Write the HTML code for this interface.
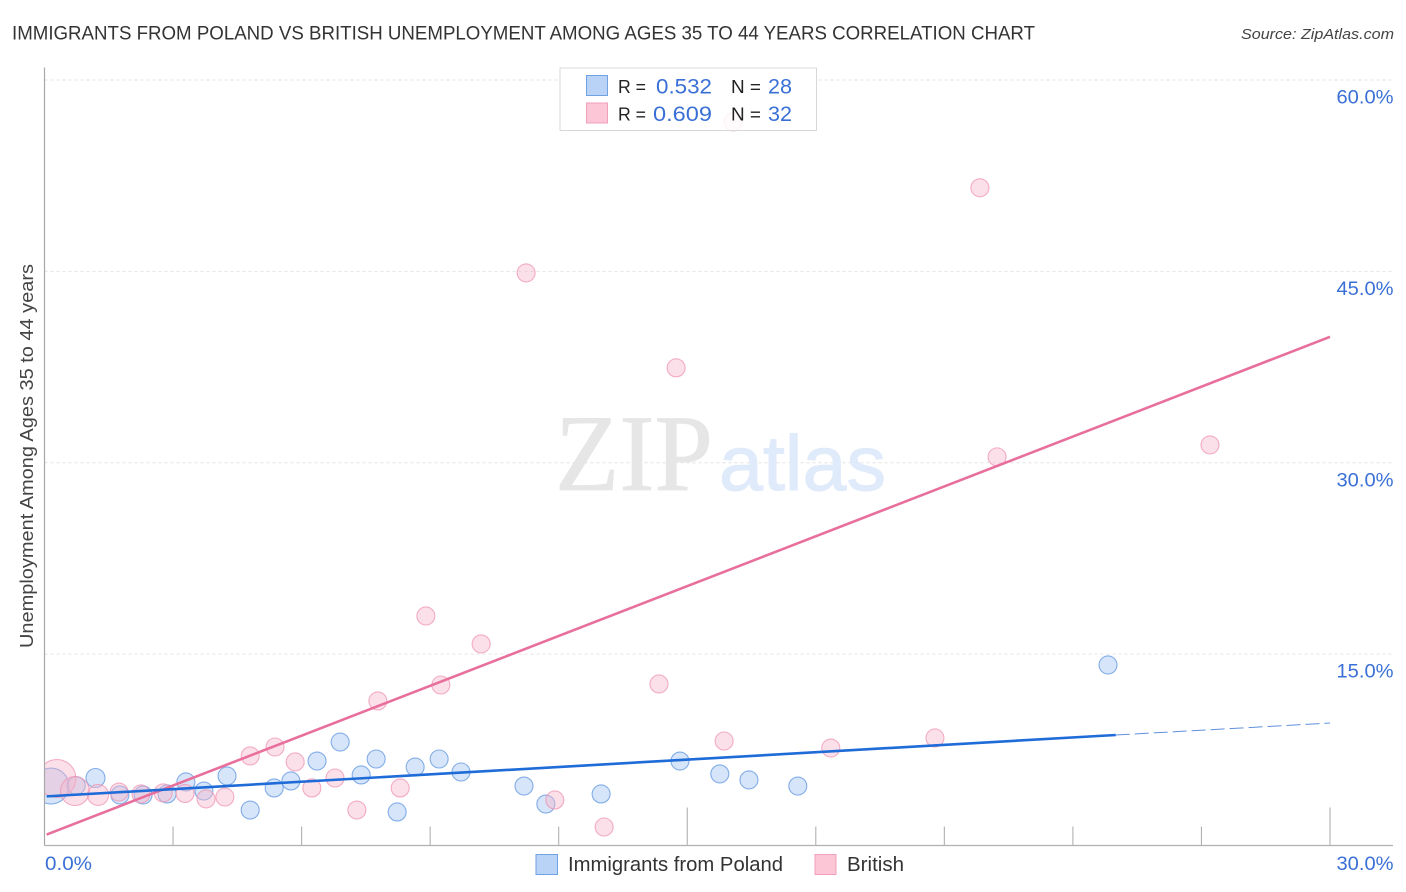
<!DOCTYPE html>
<html lang="en">
<head>
<meta charset="utf-8">
<title>Immigrants from Poland vs British Unemployment Correlation Chart</title>
<style>
html,body{margin:0;padding:0;background:#fff;width:1406px;height:892px;overflow:hidden}
svg{display:block}
text{font-family:"Liberation Sans",sans-serif}
</style>
</head>
<body>
<svg id="chart" xmlns="http://www.w3.org/2000/svg" width="1406" height="892" viewBox="0 0 1406 892">
  <text x="12" y="39.5" font-size="19.5" fill="#333" textLength="1023" lengthAdjust="spacingAndGlyphs">IMMIGRANTS FROM POLAND VS BRITISH UNEMPLOYMENT AMONG AGES 35 TO 44 YEARS CORRELATION CHART</text>
  <text x="1241" y="39" font-size="15" font-style="italic" fill="#444" textLength="153" lengthAdjust="spacingAndGlyphs">Source: ZipAtlas.com</text>
  <text transform="translate(33,648) rotate(-90)" font-size="18" fill="#444" textLength="384" lengthAdjust="spacingAndGlyphs">Unemployment Among Ages 35 to 44 years</text>

  <g id="grid"></g>

  <text x="555" y="490" font-size="109" fill="#e6e6e6" stroke="#e6e6e6" stroke-width="0.8" style="font-family:'Liberation Serif',serif" textLength="158" lengthAdjust="spacingAndGlyphs">ZIP</text>
  <text x="719" y="490" font-size="78" fill="#dfeafa" stroke="#dfeafa" stroke-width="1" textLength="167" lengthAdjust="spacingAndGlyphs">atlas</text>

  <g id="points"></g>
  <rect x="28" y="750" width="16.500" height="70" fill="#fff"/>
  <g id="axes"></g>
  <g id="trends"></g>
  <g id="labels"></g>

  <g>
    <rect x="560" y="68" width="256.500" height="62.500" fill="#fff" fill-opacity="0.85" stroke="#d8d8d8" stroke-width="1"/>
    <rect x="586.500" y="75.500" width="21" height="20" fill="#b9d3f7" stroke="#6fa1e4" stroke-width="1"/>
    <rect x="586.500" y="103" width="21" height="20" fill="#fcc6d6" stroke="#f0a0bb" stroke-width="1"/>
    <text x="618" y="93" font-size="18" fill="#222" textLength="28" lengthAdjust="spacingAndGlyphs">R =</text>
    <text x="656" y="93.500" font-size="21" fill="#3a70d6" textLength="56" lengthAdjust="spacingAndGlyphs">0.532</text>
    <text x="731" y="93" font-size="18" fill="#222" textLength="30" lengthAdjust="spacingAndGlyphs">N =</text>
    <text x="768" y="93.500" font-size="21" fill="#3a70d6" textLength="24" lengthAdjust="spacingAndGlyphs">28</text>
    <text x="618" y="120.500" font-size="18" fill="#222" textLength="28" lengthAdjust="spacingAndGlyphs">R =</text>
    <text x="653" y="121" font-size="21" fill="#3a70d6" textLength="59" lengthAdjust="spacingAndGlyphs">0.609</text>
    <text x="731" y="120.500" font-size="18" fill="#222" textLength="30" lengthAdjust="spacingAndGlyphs">N =</text>
    <text x="768" y="121" font-size="21" fill="#3a70d6" textLength="24" lengthAdjust="spacingAndGlyphs">32</text>
  </g>

  <g>
    <rect x="536" y="854.500" width="21.500" height="20" fill="#b9d3f7" stroke="#6fa1e4" stroke-width="1"/>
    <text x="568" y="871" font-size="20" fill="#333" textLength="215" lengthAdjust="spacingAndGlyphs">Immigrants from Poland</text>
    <rect x="815" y="854.500" width="21" height="20" fill="#fcc6d6" stroke="#f0a0bb" stroke-width="1"/>
    <text x="847" y="871" font-size="20" fill="#333" textLength="57" lengthAdjust="spacingAndGlyphs">British</text>
  </g>
</svg>
<script>
// Chart data
var yTickValues = [15, 30, 45, 60];
var yTickLabels = ["15.0%", "30.0%", "45.0%", "60.0%"];
var xTickValues = [3, 6, 9, 12, 15, 18, 21, 24, 27, 30];
var xMajorTicks = [15, 30];
var xEndLabels = ["0.0%", "30.0%"];

var polandX = [0.15,0.74,1.19,1.76,2.30,2.86,3.30,3.72,4.26,4.80,5.36,5.75,6.36,6.90,7.39,7.74,8.23,8.65,9.21,9.72,11.19,11.70,12.99,14.83,15.76,16.44,17.58,24.82];
var polandY = [4.66,4.69,5.29,3.96,3.96,4.04,4.98,4.27,5.45,2.78,4.51,5.06,6.62,8.11,5.53,6.78,2.63,6.15,6.78,5.76,4.66,3.25,4.04,6.62,5.61,5.14,4.66,14.15];
var polandWeight = [18,9,9.5,9,9,9,9,9,9,9,9,9,9,9,9,9,9,9,9,9,9,9,9,9,9,9,9,9];

var britishX = [0.29,0.71,1.25,1.74,2.25,2.77,3.28,3.77,4.21,4.80,5.38,5.85,6.24,6.78,7.29,7.78,8.30,8.90,9.25,10.19,11.24,11.91,13.06,14.34,14.74,15.86,16.07,18.35,20.78,21.83,22.23,27.20];
var britishY = [5.25,4.27,3.96,4.19,4.04,4.12,4.08,3.65,3.80,7.02,7.72,6.55,4.51,5.29,2.78,11.33,4.51,17.99,12.58,15.80,44.88,3.57,1.45,12.66,37.44,8.19,56.72,7.64,8.43,51.55,30.46,31.40];
var britishWeight = [19,14.5,10.5,9,9,9,9,9,9,9,9,9,9,9,9,9,9,9,9,9,9,9,9,9,9,9,9,9,9,9,9,9];

var polandTrendX = [0.05, 25.0, 30];
var polandTrendY = [3.85, 8.66, 9.6];
var britishTrendX = [0.05, 30];
var britishTrendY = [0.86, 39.87];

// Axis functions
var plotLeft = 44.5, plotRight = 1330, plotBottom = 845.5, plotTop = 80;
function sx(v) { return plotLeft + (plotRight - plotLeft) * v / 30; }
function sy(v) { return plotBottom - (plotBottom - plotTop) * v / 60; }

var NS = "http://www.w3.org/2000/svg";
function mk(tag, parent, props) {
  var el = document.createElementNS(NS, tag);
  for (var k in props) { el.setAttribute(k, props[k]); }
  parent.appendChild(el);
  return el;
}

var grid = document.getElementById("grid");
var axes = document.getElementById("axes");
var points = document.getElementById("points");
var trends = document.getElementById("trends");
var labels = document.getElementById("labels");

yTickValues.forEach(function (v, i) {
  var g = mk("line", grid, {x1: plotLeft, x2: 1393, y1: sy(v), y2: sy(v), stroke: "#e2e2e2", "stroke-width": 1, "stroke-dasharray": "3 3"});
  
  
  var t = mk("text", labels, {x: 1393.5, y: sy(v) + 23.5, "font-size": 19, fill: "#3a70d6", "text-anchor": "end", textLength: 57, lengthAdjust: "spacingAndGlyphs"});
  t.textContent = yTickLabels[i];
  
  
});

var yAxis = mk("line", axes, {x1: plotLeft, x2: plotLeft, y1: 67.5, y2: plotBottom, stroke: "#a8a8a8", "stroke-width": 1.2});


var xAxis = mk("line", axes, {x1: plotLeft, x2: 1393, y1: plotBottom, y2: plotBottom, stroke: "#b0b0b0", "stroke-width": 1.2});



xTickValues.forEach(function (v) {
  var top = xMajorTicks.indexOf(v) >= 0 ? 807.5 : 826.5;
  var tk = mk("line", axes, {x1: sx(v), x2: sx(v), y1: top, y2: plotBottom, stroke: "#b0b0b0", "stroke-width": 1.1});
  
  
});

var x0 = mk("text", labels, {x: 45, y: 870, "font-size": 19, fill: "#3a70d6", textLength: 47, lengthAdjust: "spacingAndGlyphs"});
x0.textContent = xEndLabels[0];


var x1 = mk("text", labels, {x: 1393.5, y: 870, "font-size": 19, fill: "#3a70d6", "text-anchor": "end", textLength: 57, lengthAdjust: "spacingAndGlyphs"});
x1.textContent = xEndLabels[1];



polandX.forEach(function (v, i) {
  var c = mk("circle", points, {cx: sx(v), cy: sy(polandY[i]), r: polandWeight[i], fill: "#a9c8f3", "fill-opacity": 0.48, stroke: "#5f95e0", "stroke-opacity": 0.75, "stroke-width": 1.1});
  
  
});
britishX.forEach(function (v, i) {
  var c = mk("circle", points, {cx: sx(v), cy: sy(britishY[i]), r: britishWeight[i], fill: "#f9b6cb", "fill-opacity": 0.42, stroke: "#ef94b2", "stroke-opacity": 0.75, "stroke-width": 1.1});
  
  
});

var pinkLine = mk("line", trends, {x1: sx(britishTrendX[0]), y1: sy(britishTrendY[0]), x2: sx(britishTrendX[1]), y2: sy(britishTrendY[1]), stroke: "#e86f9c", "stroke-width": 2.6});


var blueLine = mk("line", trends, {x1: sx(polandTrendX[0]), y1: sy(polandTrendY[0]), x2: sx(polandTrendX[1]), y2: sy(polandTrendY[1]), stroke: "#1f6bd8", "stroke-width": 2.6});


var blueDash = mk("line", trends, {x1: sx(polandTrendX[1]), y1: sy(polandTrendY[1]), x2: sx(polandTrendX[2]), y2: sy(polandTrendY[2]), stroke: "#5f90dc", "stroke-width": 1, "stroke-dasharray": "14 5"});


</script>
</body>
</html>
